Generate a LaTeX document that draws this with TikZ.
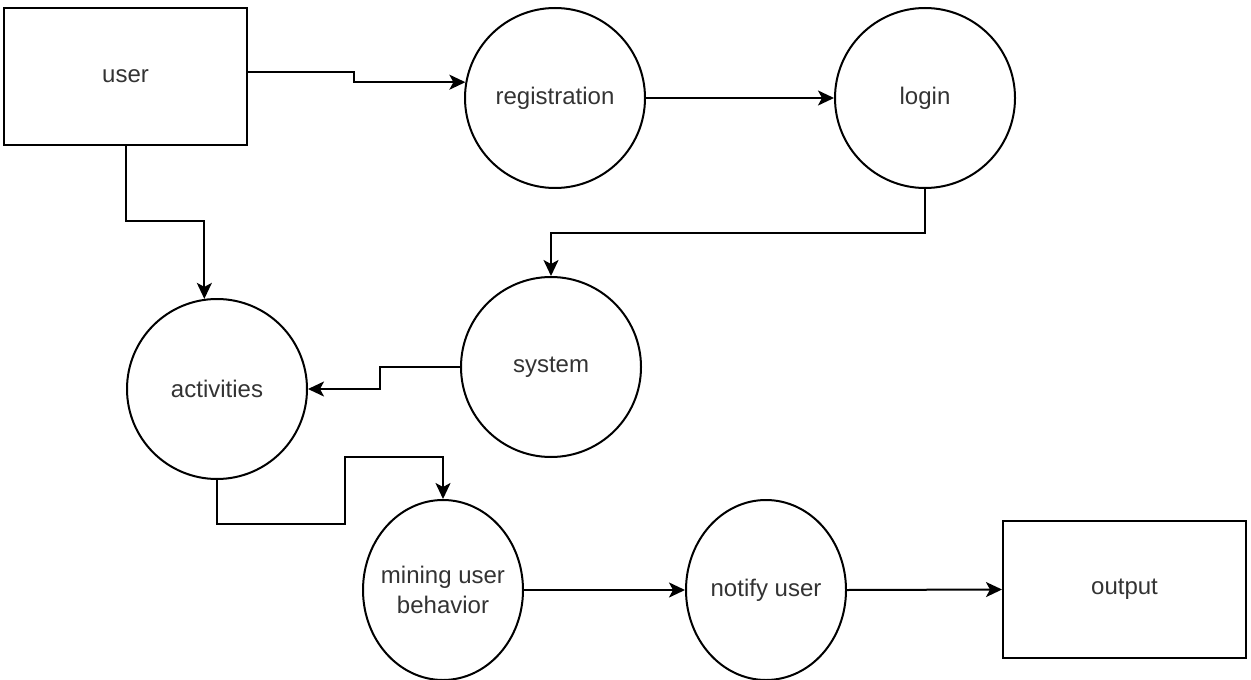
\documentclass[tikz,border=0pt]{standalone}
\usepackage{fontspec}
\setmainfont{Liberation Sans}
\definecolor{dfdtext}{HTML}{333333}
\usepackage{tikz}
\usetikzlibrary{arrows.meta, positioning, shapes.geometric}

\begin{document}
\begin{tikzpicture}[x=0.5pt, y=-0.5pt,
    font=\fontsize{12}{15}\selectfont,
    entity/.style={draw, line width=1pt, minimum width=121.5pt, minimum height=68.5pt,
                   inner sep=0pt, text=dfdtext},
    bubble/.style={draw, ellipse, line width=1pt, minimum width=90pt, minimum height=90pt,
                   inner sep=0pt, text=dfdtext, align=center},
    smallbubble/.style={bubble, minimum width=80pt, inner xsep=-3.5pt},
    flow/.style={-{Stealth[length=8pt, width=7.5pt, inset=2pt]}, line width=1pt}]
      \useasboundingbox (0,0) rectangle (1251,679);
      % external entities
      \node[entity] (user) at (125.5,76.5) {user};
      \node[entity] (output) at (1124.5,589.5) {output};
      % processes
      \node[bubble] (registration) at (555,98) {registration};
      \node[bubble] (login) at (925,98) {login};
      \node[bubble] (system) at (551,367) {system};
      \node[bubble] (activities) at (217,389) {activities};
      \node[smallbubble] (mining) at (443,590) {mining user\\behavior};
      \node[smallbubble] (notify) at (766,590) {notify user};
      % flows
      \draw[flow] ([yshift=2pt]user.east) -- ++(106,0) |- (registration.170);
      \draw[flow] (registration.east) -- (login.west);
      \draw[flow] (login.south) -- ++(0,44) -| (system.north);
      \draw[flow] (user.south) -- ++(0,75) -| (activities.98);
      \draw[flow] (system.west) -- ++(-80,0) |- (activities.east);
      \draw[flow] (activities.south) -- ++(0,44) -- ++(128,0) -- ++(0,-67) -| (mining.north);
      \draw[flow] (mining.east) -- (notify.west);
      \draw[flow] (notify.east) -- (output.west);
\end{tikzpicture}
\end{document}
